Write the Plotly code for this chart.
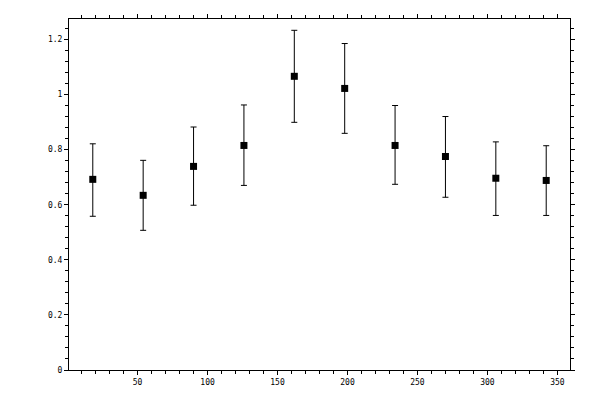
import plotly.graph_objects as go

# bin centres (degrees) and measured values with asymmetric errors
angle = [18, 54, 90, 126, 162, 198, 234, 270, 306, 342]
value = [0.692, 0.634, 0.739, 0.815, 1.066, 1.022, 0.815, 0.775, 0.696, 0.688]
err_hi = [0.129, 0.127, 0.143, 0.147, 0.167, 0.163, 0.145, 0.145, 0.132, 0.126]
err_lo = [0.134, 0.127, 0.141, 0.145, 0.167, 0.163, 0.141, 0.148, 0.135, 0.127]

x_range = [1, 359]
y_range = [0, 1.274]
tick_font = dict(family='DejaVu Sans Mono', size=8, color='black')

fig = go.Figure()
fig.add_trace(go.Scatter(
    x=angle, y=value, mode='markers',
    marker=dict(symbol='square', size=7, color='black'),
    error_y=dict(type='data', symmetric=False, array=err_hi, arrayminus=err_lo,
                 color='black', thickness=1, width=3),
    showlegend=False))

axis_common = dict(showline=True, linecolor='black', linewidth=1, showgrid=False,
                   zeroline=False, ticks='outside', ticklen=4, tickwidth=1,
                   tickcolor='black', mirror='ticks', tickfont=tick_font,
                   automargin=False)
overlay_common = dict(ticks='inside', ticklen=4, tickcolor='black', mirror='ticks',
                      showline=False, showgrid=False, zeroline=False,
                      showticklabels=False, automargin=False)

# page body adds 8px, so margins are shifted to keep the frame in place
fig.update_layout(
    width=600, height=400,
    margin=dict(l=61, r=38, t=11, b=38, autoexpand=False),
    paper_bgcolor='white', plot_bgcolor='white',
    xaxis=dict(range=x_range, tick0=0, dtick=50,
               minor=dict(dtick=10, ticks='outside', ticklen=3, tickcolor='black'),
               **axis_common),
    yaxis=dict(range=y_range, tick0=0, dtick=0.2,
               minor=dict(dtick=0.04, ticks='outside', ticklen=3, tickcolor='black'),
               **axis_common),
    # overlay axes give the inner half of the major ticks
    xaxis2=dict(range=x_range, overlaying='x', anchor='y2', tick0=0, dtick=50,
                **overlay_common),
    yaxis2=dict(range=y_range, overlaying='y', anchor='x2', tick0=0, dtick=0.2,
                **overlay_common),
)

fig.write_html("out.html")
